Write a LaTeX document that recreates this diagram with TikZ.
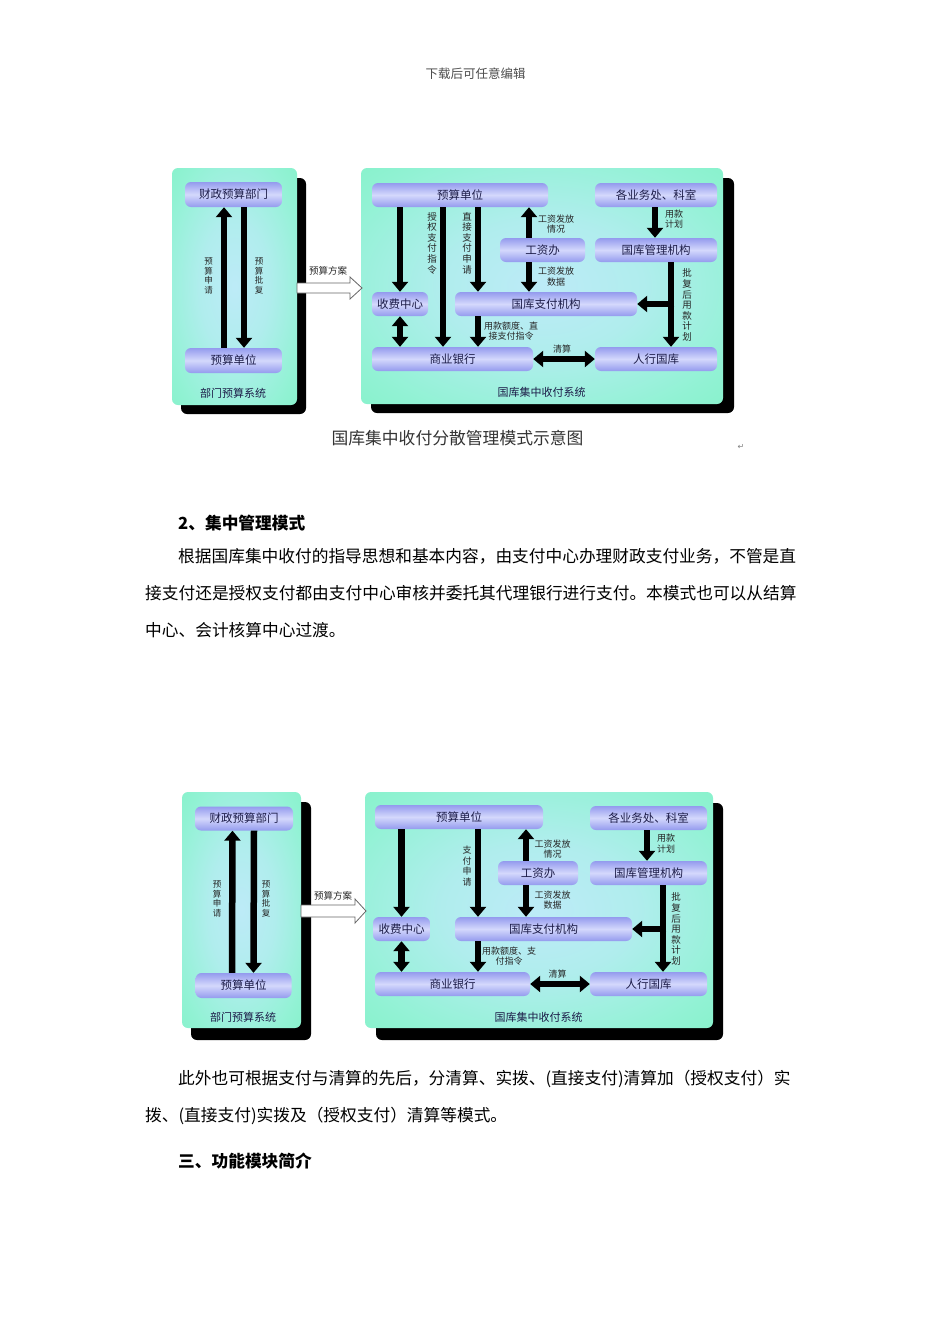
\documentclass[tikz,border=0pt]{standalone}
\usepackage{fontspec}
\newfontfamily\cjk{Noto Sans CJK SC}
\newfontfamily\dejavu{DejaVu Sans}
\usetikzlibrary{arrows.meta}
\definecolor{boxedge}{HTML}{949BEE}
\definecolor{boxmid}{HTML}{D4D8FC}
\definecolor{boxtext}{HTML}{1C1C48}
\pgfdeclareradialshading{panelshade}{\pgfpoint{0bp}{0bp}}{rgb(0bp)=(0.74,0.92,0.97); rgb(14bp)=(0.69,0.93,0.93); rgb(30bp)=(0.57,0.95,0.83); rgb(42bp)=(0.50,0.95,0.77); rgb(100bp)=(0.50,0.95,0.77)}
\tikzset{
  panel/.style={rounded corners=6pt, inner sep=0pt, shading=panelshade},
  shadowbox/.style={fill=black, rounded corners=6pt},
  box/.style={rounded corners=6pt, inner sep=0pt, top color=boxedge, bottom color=boxedge, middle color=boxmid,
    font=\cjk\fontsize{11.5}{12}\selectfont, text=boxtext, minimum height=24pt},
  barrow/.style={line width=6.5pt, -{Triangle[width=16pt,length=10pt]}},
  dbarrow/.style={line width=6.5pt, {Triangle[width=16pt,length=10pt]}-{Triangle[width=16pt,length=10pt]}},
  lbl/.style={font=\cjk\fontsize{9}{10.5}\selectfont, text=black!85, align=center, inner sep=0pt},
  vlbl/.style={font=\cjk\fontsize{9.5}{10.6}\selectfont, text=black!85, align=center, inner sep=0pt},
  svlbl/.style={font=\cjk\fontsize{8.5}{9.5}\selectfont, text=black!85, align=center, inner sep=0pt},
  plbl/.style={font=\cjk\fontsize{11}{12}\selectfont, text=boxtext, inner sep=0pt},
  blockarrow/.style={fill=white, draw=black!60, line width=0.8pt, line join=miter},
  body/.style={font=\cjk\fontsize{16.7}{18}\selectfont, text=black, anchor=west, inner sep=0pt},
  bodyhead/.style={font=\cjk\bfseries\fontsize{16.7}{18}\selectfont, text=black, anchor=west, inner sep=0pt},
}
\begin{document}
\begin{tikzpicture}[x=1pt,y=-1pt]
\useasboundingbox (0,0) rectangle (950,1344);
\fill[white] (0,0) rectangle (950,1344);

% header
\node[font=\cjk\fontsize{12.5}{13}\selectfont, text=black!70, inner sep=0pt] (hdr) at (475.5,74) {下载后可任意编辑};

%================ TOP DIAGRAM ================
\fill[shadowbox] (181,178) rectangle (306,414);
\fill[shadowbox] (371,178) rectangle (734,413);
\node[panel, minimum width=125pt, minimum height=237pt] (tL) at (234.5,286.5) {};
\node[panel, minimum width=362pt, minimum height=236pt] (tR) at (542,286) {};

% left panel
\node[box, minimum width=97pt, minimum height=25pt] (tfin) at (233.5,194.5) {财政预算部门};
\node[box, minimum width=97pt, minimum height=25pt] (tunit) at (233.5,360.5) {预算单位};
\node[plbl] (tLlab) at (233,393) {部门预算系统};
\draw[barrow] ([xshift=-9.5pt]tunit.north) -- ([xshift=-9.5pt]tfin.south);
\draw[barrow] ([xshift=10.5pt]tfin.south) -- ([xshift=10.5pt]tunit.north);
\node[svlbl] (tl1) at (208.5,276) {预\\算\\申\\请};
\node[svlbl] (tl2) at (259,276) {预\\算\\批\\复};

% block arrow
\path[blockarrow] (297,283) -- (350,283) -- (350,277) -- (362,288) -- (350,299) -- (350,293) -- (297,293) -- cycle;
\node[lbl, font=\cjk\fontsize{9.5}{10.5}\selectfont] (tplan) at (328,271) {预算方案};

% right panel boxes
\node[box, minimum width=176pt] (tbu) at (460,195) {预算单位};
\node[box, minimum width=122pt] (tdep) at (656,195) {各业务处、科室};
\node[box, minimum width=85pt] (twage) at (542.5,250) {工资办};
\node[box, minimum width=122pt] (tmgmt) at (656,250) {国库管理机构};
\node[box, minimum width=56pt] (tfee) at (400,304) {收费中心};
\node[box, minimum width=182pt] (tpay) at (546,304) {国库支付机构};
\node[box, minimum width=161pt] (tbank) at (452.5,359) {商业银行};
\node[box, minimum width=122pt] (tpbc) at (656,359) {人行国库};
\node[plbl] (tRlab) at (541.5,392) {国库集中收付系统};

\coordinate (ta1) at (443,0);
\coordinate (ta2) at (478,0);
\coordinate (ta3) at (529,0);
\coordinate (ta4) at (655,0);
\coordinate (ta5) at (671,0);

\draw[barrow] (tbu.south -| tfee) -- (tfee.north);
\draw[barrow] (tbu.south -| ta1) -- (tbank.north -| ta1);
\draw[barrow] (tbu.south -| ta2) -- (tpay.north -| ta2);
\draw[dbarrow] (tfee.south) -- (tbank.north -| tfee);
\draw[barrow] (tpay.south -| ta2) -- (tbank.north -| ta2);
\draw[barrow] (twage.north -| ta3) -- (tbu.south -| ta3);
\draw[barrow] (twage.south -| ta3) -- (tpay.north -| ta3);
\draw[barrow] (tdep.south -| ta4) -- (tmgmt.north -| ta4);
\draw[barrow] (tmgmt.south -| ta5) -- (tpbc.north -| ta5);
\draw[barrow] ([xshift=3.25pt]tpay.east -| ta5) -- (tpay.east);
\draw[dbarrow] (tbank.east) -- (tpbc.west);

\node[vlbl] (tv1) at (432,243) {授\\权\\支\\付\\指\\令};
\node[vlbl] (tv2) at (467,243) {直\\接\\支\\付\\申\\请};
\node[lbl] (tl3) at (511,331) {用款额度、直\\接支付指令};
\node[lbl] (tl4) at (556,224) {工资发放\\情况};
\node[lbl] (tl5) at (556,276.5) {工资发放\\数据};
\node[lbl] (tl6) at (674,219) {用款\\计划};
\node[vlbl] (tv3) at (687,305) {批\\复\\后\\用\\款\\计\\划};
\node[lbl] (tl7) at (562,349.5) {清算};

% caption
\node[font=\cjk\fontsize{16.8}{17}\selectfont, text=black!80, inner sep=0pt] (tcap) at (457.5,438) {国库集中收付分散管理模式示意图};
\node[font=\dejavu\fontsize{8}{9}\selectfont, text=black!50, inner sep=0pt] (ret) at (741,447) {↵};

%================ TEXT ================
\node[bodyhead] (h1) at (178,523) {2、集中管理模式};
\node[body] (p1) at (178,556) {根据国库集中收付的指导思想和基本内容，由支付中心办理财政支付业务，不管是直};
\node[body] (p2) at (145,593) {接支付还是授权支付都由支付中心审核并委托其代理银行进行支付。本模式也可以从结算};
\node[body] (p3) at (145,630) {中心、会计核算中心过渡。};

%================ BOTTOM DIAGRAM ================
\fill[shadowbox] (191,802) rectangle (311,1040);
\fill[shadowbox] (376,803) rectangle (723,1040);
\node[panel, minimum width=119pt, minimum height=236pt] (bL) at (241.5,910) {};
\node[panel, minimum width=348pt, minimum height=236pt] (bR) at (539,910) {};

\node[box, minimum width=98pt] (bfin) at (244,818.5) {财政预算部门};
\node[box, minimum width=96pt, minimum height=25pt] (bunit) at (243.5,985.5) {预算单位};
\node[plbl] (bLlab) at (243,1017) {部门预算系统};
\draw[barrow] ([xshift=-11.5pt]bunit.north) -- ([xshift=-11.5pt]bfin.south);
\draw[barrow] ([xshift=10pt]bfin.south) -- ([xshift=10pt]bunit.north);
\node[svlbl] (bl1) at (217,899) {预\\算\\申\\请};
\node[svlbl] (bl2) at (266,899) {预\\算\\批\\复};

\path[blockarrow] (301,905) -- (355,905) -- (355,899) -- (366,911) -- (355,923) -- (355,917) -- (301,917) -- cycle;
\node[lbl, font=\cjk\fontsize{9.5}{10.5}\selectfont] (bplan) at (333,896) {预算方案};

\node[box, minimum width=168pt] (bbu) at (459,817) {预算单位};
\node[box, minimum width=117pt] (bdep) at (648.5,818) {各业务处、科室};
\node[box, minimum width=80pt] (bwage) at (538,873) {工资办};
\node[box, minimum width=117pt] (bmgmt) at (648.5,873) {国库管理机构};
\node[box, minimum width=57pt] (bfee) at (401.5,929) {收费中心};
\node[box, minimum width=177pt] (bpay) at (543.5,929) {国库支付机构};
\node[box, minimum width=155pt] (bbank) at (452.5,984) {商业银行};
\node[box, minimum width=117pt] (bpbc) at (648.5,984) {人行国库};
\node[plbl] (bRlab) at (538.5,1017) {国库集中收付系统};

\coordinate (ba2) at (478,0);
\coordinate (ba3) at (526,0);
\coordinate (ba4) at (647,0);
\coordinate (ba5) at (663,0);

\draw[barrow] (bbu.south -| bfee) -- (bfee.north);
\draw[barrow] (bbu.south -| ba2) -- (bpay.north -| ba2);
\draw[dbarrow] (bfee.south) -- (bbank.north -| bfee);
\draw[barrow] (bpay.south -| ba2) -- (bbank.north -| ba2);
\draw[barrow] (bwage.north -| ba3) -- (bbu.south -| ba3);
\draw[barrow] (bwage.south -| ba3) -- (bpay.north -| ba3);
\draw[barrow] (bdep.south -| ba4) -- (bmgmt.north -| ba4);
\draw[barrow] (bmgmt.south -| ba5) -- (bpbc.north -| ba5);
\draw[barrow] ([xshift=3.25pt]bpay.east -| ba5) -- (bpay.east);
\draw[dbarrow] (bbank.east) -- (bpbc.west);

\node[svlbl, font=\cjk\fontsize{9}{10.5}\selectfont] (bv1) at (467,866) {支\\付\\申\\请};
\node[lbl] (bl3) at (509,956) {用款额度、支\\付指令};
\node[lbl] (bl4) at (552.5,849) {工资发放\\情况};
\node[lbl] (bl5) at (552.5,900) {工资发放\\数据};
\node[lbl] (bl6) at (666,843.5) {用款\\计划};
\node[vlbl] (bv3) at (676,929) {批\\复\\后\\用\\款\\计\\划};
\node[lbl] (bl7) at (557.5,974) {清算};

%================ TEXT 2 ================
\node[body] (q1) at (178,1079) {此外也可根据支付与清算的先后，分清算、实拨、(直接支付)清算加（授权支付）实};
\node[body] (q2) at (145,1116) {拨、(直接支付)实拨及（授权支付）清算等模式。};
\node[bodyhead] (h2) at (178,1161) {三、功能模块简介};
\end{tikzpicture}
\end{document}
